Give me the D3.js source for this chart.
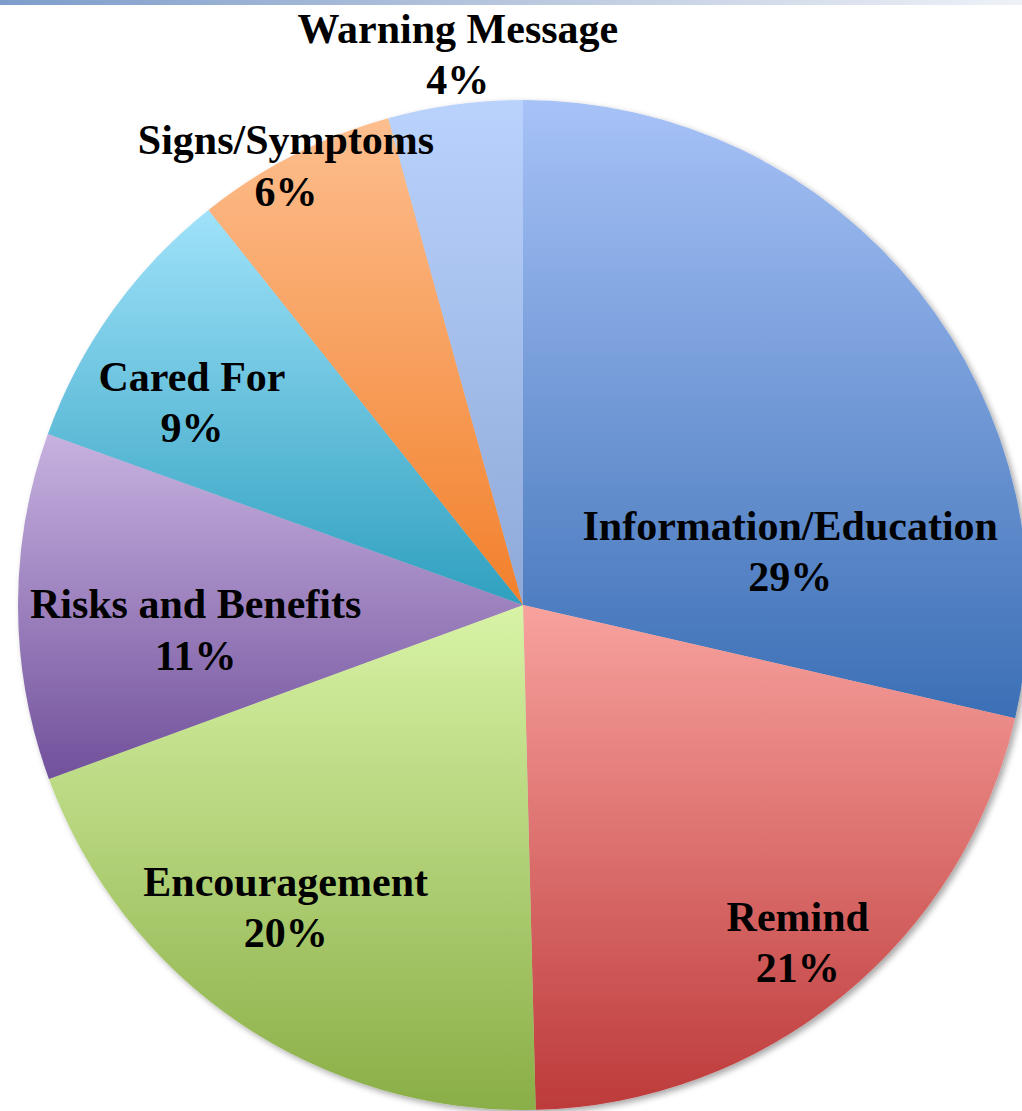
<!DOCTYPE html>
<html>
<head>
<meta charset="utf-8">
<script src="https://cdn.jsdelivr.net/npm/d3@7"></script>
<style>
  body { margin: 0; background: #fff; }
  svg { display: block; }
  .lbl { font-family: "Liberation Serif", "Times New Roman", serif; font-weight: bold; font-size: 42px; fill: #000; }
</style>
</head>
<body>
<div id="chart"></div>
<script>
// categories, clockwise from 12 o'clock
var categories = ["Information/Education", "Remind", "Encouragement", "Risks and Benefits", "Cared For", "Signs/Symptoms", "Warning Message"];
var values = [28.6, 21.0, 19.8, 11.1, 8.8, 6.4, 4.3];
var topColors = ["#a7c2f7", "#f8a29e", "#d8f3a6", "#c7b2e0", "#a0e2fa", "#fdbe8e", "#bad3fd"];
var bottomColors = ["#3b6fb5", "#bd3a3a", "#8aae47", "#71509b", "#2fa0bf", "#f2802b", "#8ea8d8"];

// label placement (radius as fraction of pie radius, angle nudge in degrees)
var labelPlace = [
  {k: 0.54, nudge: 27},
  {k: 0.86, nudge: 0},
  {k: 0.76, nudge: 4},
  {k: 0.65, nudge: -4},
  {k: 0.77, nudge: -4},
  {k: 0.99, nudge: -1.3},
  {k: 1.10, nudge: 1}
];

var width = 1022, height = 1111;
var cx = 523, cy = 605, radius = 505;

var svg = d3.select("#chart").append("svg")
  .attr("width", width)
  .attr("height", height);

var defs = svg.append("defs");

// top strip
var strip = defs.append("linearGradient").attr("id", "strip")
  .attr("x1", 0).attr("x2", 1).attr("y1", 0).attr("y2", 0);
strip.append("stop").attr("offset", 0).attr("stop-color", "#7d9dcb");
strip.append("stop").attr("offset", 0.5).attr("stop-color", "#b8c7de");
strip.append("stop").attr("offset", 1).attr("stop-color", "#eef1f7");

svg.append("rect")
  .attr("x", 0).attr("y", 0)
  .attr("width", width).attr("height", 5)
  .attr("fill", "url(#strip)");

categories.forEach(function(c, i) {
  var g = defs.append("linearGradient").attr("id", "grad" + i)
    .attr("x1", 0).attr("x2", 0).attr("y1", 0).attr("y2", 1);
  g.append("stop").attr("offset", 0).attr("stop-color", topColors[i]);
  g.append("stop").attr("offset", 1).attr("stop-color", bottomColors[i]);
});

var shadow = defs.append("filter").attr("id", "shadow")
  .attr("x", "-10%").attr("y", "-10%").attr("width", "120%").attr("height", "120%");
shadow.append("feDropShadow")
  .attr("dx", 3).attr("dy", 3).attr("stdDeviation", 3)
  .attr("flood-color", "#000").attr("flood-opacity", 0.35);

var data = categories.map(function(c, i) {
  return {name: c, value: values[i], idx: i};
});

var pie = d3.pie()
  .sort(null)
  .value(function(d) { return d.value; });

var arc = d3.arc()
  .innerRadius(0)
  .outerRadius(radius);

var arcs = pie(data);

var g = svg.append("g")
  .attr("transform", "translate(" + cx + "," + cy + ")");

g.append("g")
  .attr("filter", "url(#shadow)")
  .selectAll("path")
  .data(arcs)
  .enter().append("path")
  .attr("d", arc)
  .attr("fill", function(d) { return "url(#grad" + d.data.idx + ")"; });

var labels = g.selectAll(".lbl")
  .data(arcs)
  .enter().append("text")
  .attr("class", "lbl")
  .attr("text-anchor", "middle")
  .attr("transform", function(d) {
    var p = labelPlace[d.data.idx];
    var mid = (d.startAngle + d.endAngle) / 2 + p.nudge * Math.PI / 180;
    var r = radius * p.k;
    var la = d3.arc().innerRadius(r).outerRadius(r);
    var c = la.centroid({startAngle: mid, endAngle: mid});
    return "translate(" + c[0] + "," + c[1] + ")";
  });

labels.append("tspan")
  .attr("x", 0)
  .attr("dy", "-0.25em")
  .text(function(d) { return d.data.name; });

labels.append("tspan")
  .attr("x", 0)
  .attr("dy", "1.22em")
  .text(function(d) { return Math.round(d.data.value) + "%"; });
</script>
</body>
</html>
